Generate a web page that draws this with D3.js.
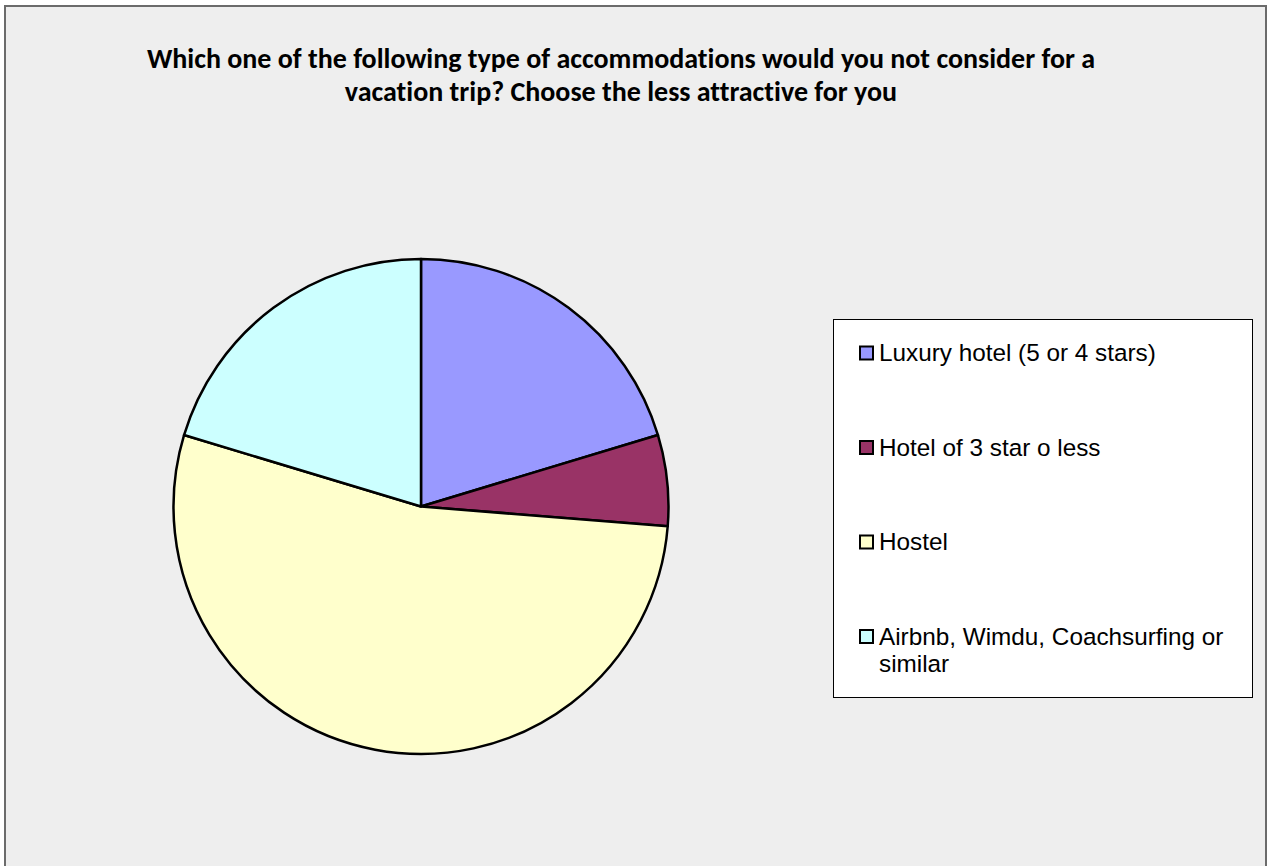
<!DOCTYPE html>
<html>
<head>
<meta charset="utf-8">
<script src="https://cdn.jsdelivr.net/npm/d3@7"></script>
<style>
  html, body { margin: 0; padding: 0; background: #ffffff; }
  svg { display: block; }
  .title { font-variant-ligatures: none; font-feature-settings: "liga" 0, "clig" 0; }
</style>
</head>
<body>
<svg id="chart" width="1269" height="866"></svg>
<script>
// Survey answers: least attractive accommodation type
const categories = [
  "Luxury hotel (5 or 4 stars)",
  "Hotel of 3 star o less",
  "Hostel",
  "Airbnb, Wimdu, Coachsurfing or similar"
];
const legendLines = [
  ["Luxury hotel (5 or 4 stars)"],
  ["Hotel of 3 star o less"],
  ["Hostel"],
  ["Airbnb, Wimdu, Coachsurfing or", "similar"]
];
const responses = [24, 7, 63, 24];
const sliceColors = ["#9999FF", "#993366", "#FFFFCC", "#CCFFFF"];
const titleLines = [
  "Which one of the following type of accommodations would you not consider for a",
  "vacation trip? Choose the less attractive for you"
];

const svg = d3.select("#chart");

// chart area frame
svg.append("rect")
  .attr("x", 5).attr("y", 6)
  .attr("width", 1261).attr("height", 880)
  .attr("fill", "#EEEEEE")
  .attr("stroke", "#6b6b6b")
  .attr("stroke-width", 2);

// title
svg.append("g").selectAll("text")
  .data(titleLines)
  .join("text")
  .attr("class", "title")
  .attr("x", 621)
  .attr("y", (d, i) => 67.5 + i * 33.5)
  .attr("text-anchor", "middle")
  .attr("font-family", "Carlito, Lato, 'Open Sans', sans-serif")
  .attr("font-weight", "bold")
  .attr("font-size", 28)
  .attr("fill", "#000")
  .text(d => d);

// pie
const cx = 421, cy = 506.5, radius = 247.5;
const pie = d3.pie().sort(null).value(d => d);
const arc = d3.arc().innerRadius(0).outerRadius(radius);
const color = d3.scaleOrdinal().domain(categories).range(sliceColors);

svg.append("g")
  .attr("transform", `translate(${cx},${cy})`)
  .selectAll("path")
  .data(pie(responses))
  .join("path")
  .attr("d", arc)
  .attr("fill", (d, i) => color(categories[i]))
  .attr("stroke", "#000")
  .attr("stroke-width", 2.5)
  .attr("stroke-linejoin", "round");

// legend
const legend = svg.append("g");
legend.append("rect")
  .attr("x", 833.5).attr("y", 319.5)
  .attr("width", 419).attr("height", 378)
  .attr("fill", "#ffffff")
  .attr("stroke", "#000")
  .attr("stroke-width", 1);

const rowY = d3.scalePoint().domain(categories).range([361, 644.5]);

const items = legend.selectAll("g.item")
  .data(categories)
  .join("g")
  .attr("class", "item")
  .attr("transform", d => `translate(0,${rowY(d)})`);

items.append("rect")
  .attr("x", 860).attr("y", -14.5)
  .attr("width", 13).attr("height", 13)
  .attr("fill", d => color(d))
  .attr("stroke", "#000")
  .attr("stroke-width", 2);

items.append("text")
  .attr("font-family", "'Liberation Sans', Arial, sans-serif")
  .attr("font-size", 24.3)
  .attr("fill", "#000")
  .selectAll("tspan")
  .data((d, i) => legendLines[i])
  .join("tspan")
  .attr("x", 879)
  .attr("y", (d, j) => j * 27)
  .text(d => d);
</script>
</body>
</html>
